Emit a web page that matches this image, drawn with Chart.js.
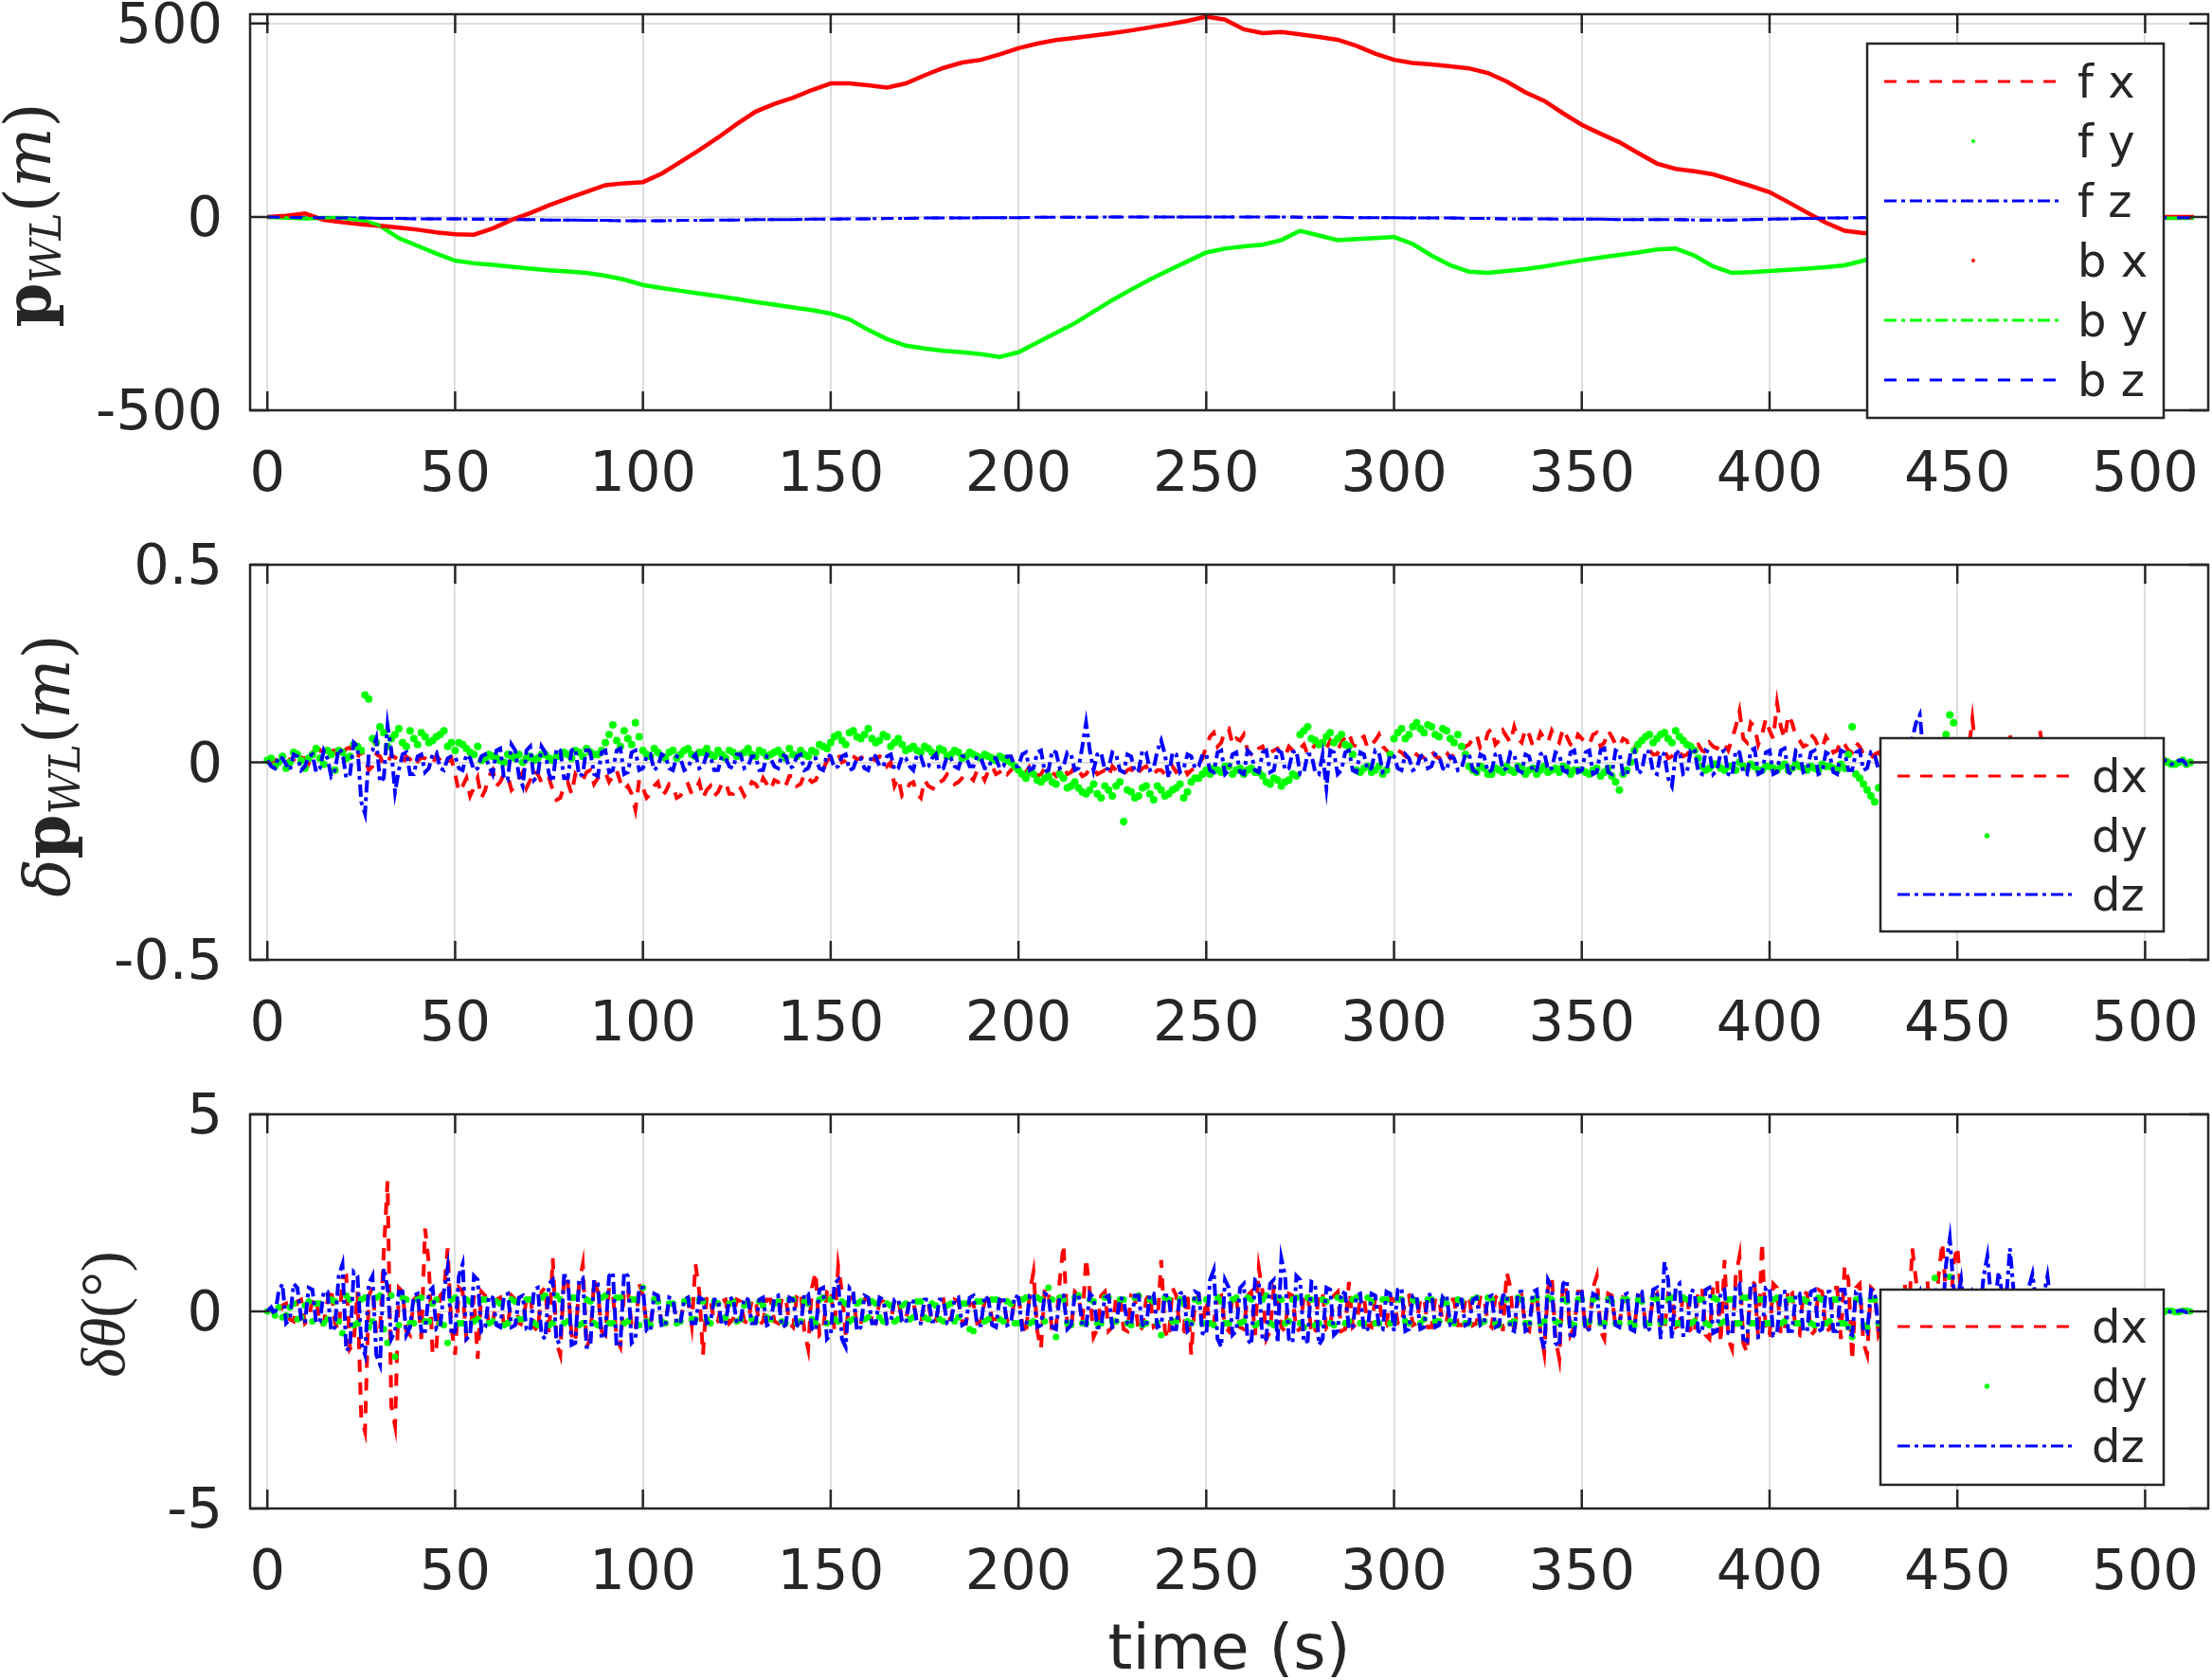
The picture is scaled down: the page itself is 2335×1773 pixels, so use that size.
<!DOCTYPE html>
<html>
<head>
<meta charset="utf-8">
<script src="https://cdn.jsdelivr.net/npm/chart.js@4/dist/chart.umd.min.js"></script>
<style>
html, body { margin: 0; padding: 0; background: #fff; overflow: hidden; }
#wrap { position: relative; width: 2335px; height: 1773px; overflow: hidden; }
canvas { position: absolute; left: 0; }
</style>
</head>
<body>
<div id="wrap">
  <canvas id="posChart" width="2335" height="560" style="top:0px"></canvas>
  <canvas id="errChart" width="2335" height="585" style="top:560px"></canvas>
  <canvas id="angChart" width="2335" height="634" style="top:1145px"></canvas>
</div>
<script>
// ---- axes ----
const xLim = [-4.6, 516.8];
const xTicks = [0, 50, 100, 150, 200, 250, 300, 350, 400, 450, 500];
const posTicks = [-500, 0, 500];
const errTicks = [-0.5, 0, 0.5];
const angTicks = [-5, 0, 5];

// sample instants (s)
const tPos = Array.from({length: 103}, (_, i) => i * 5).concat([513]);
const tEven = Array.from({length: 257}, (_, i) => i * 2);
const tOdd = Array.from({length: 256}, (_, i) => i * 2 + 1);

// ---- top: position p_WL (m), read every 5 s ----
const posX = [
  0, 3, 9, -8, -14, -19, -23, -28, -33, -40,
  -45, -46, -30, -8, 10, 30, 48, 65, 82, 87,
  90, 112, 142, 173, 205, 240, 272, 292, 308, 328,
  345, 345, 340, 334, 345, 366, 385, 399, 406, 420,
  436, 448, 457, 463, 469, 475, 482, 490, 498, 507,
  518, 510, 485, 475, 478, 472, 465, 458, 442, 422,
  406, 398, 394, 389, 384, 372, 350, 322, 300, 268,
  238, 215, 193, 165, 138, 124, 118, 110, 95, 80,
  64, 38, 11, -15, -36, -42, -40, -35, -30, -25,
  -20, -16, -12, -9, -6, -4, -3, -2, -1, 0,
  0, 0, 0, 0
];
const posY = [
  0, -2, -4, -3, -3, -8, -23, -55, -75, -95,
  -113, -120, -124, -129, -134, -138, -141, -145, -152, -162,
  -176, -184, -191, -198, -205, -212, -220, -227, -234, -241,
  -250, -265, -292, -316, -333, -340, -346, -350, -355, -362,
  -350, -325, -300, -275, -245, -215, -188, -162, -138, -115,
  -92, -82, -76, -72, -60, -36, -48, -60, -57, -55,
  -52, -70, -100, -125, -142, -145, -140, -135, -128, -120,
  -112, -105, -98, -92, -84, -82, -100, -128, -145, -143,
  -140, -137, -134, -130, -125, -113, -100, -90, -80, -70,
  -60, -50, -42, -35, -28, -22, -16, -11, -7, -4,
  -3, -3, -3, -3
];
const posZ = [
  0, -1, -2, -2, -3, -3, -4, -4, -5, -5,
  -5, -6, -6, -7, -7, -8, -8, -9, -9, -10,
  -10, -10, -9, -9, -8, -8, -7, -7, -7, -6,
  -6, -5, -5, -4, -4, -3, -3, -3, -2, -2,
  -2, -1, -1, -1, -1, 0, 0, 0, 0, 0,
  0, 0, 0, 0, 0, -1, -1, -1, -2, -2,
  -2, -3, -3, -3, -4, -4, -5, -5, -5, -6,
  -6, -6, -7, -7, -7, -7, -8, -8, -8, -7,
  -6, -5, -4, -3, -3, -2, -2, -2, -2, -2,
  -2, -2, -2, -2, -2, -2, -2, -2, -2, -2,
  -2, -2, -2, -2
];

// ---- middle: position error (m); even seconds, then odd seconds; one row per 50 s ----
const errX = [
  0, 0.005, -0.006, 0.008, -0.004, 0.01, 0.025, 0.032, 0.018, 0.03, 0.022, 0.038, 0.012, 0.01, -0.01, 0.015, 0, 0.012, -0.005, 0.008, 0.002, 0.01, -0.004, 0.006, 0,
  -0.03, -0.06, -0.085, -0.04, -0.07, -0.02, -0.05, -0.035, -0.06, -0.025, -0.045, -0.03, -0.055, -0.07, -0.09, -0.05, -0.03, -0.045, -0.02, -0.04, -0.025, -0.035, -0.05, -0.06, -0.12,
  -0.065, -0.08, -0.05, -0.075, -0.06, -0.085, -0.055, -0.07, -0.09, -0.06, -0.075, -0.05, -0.08, -0.065, -0.07, -0.055, -0.04, -0.07, -0.05, -0.06, -0.035, -0.055, -0.04, -0.045, -0.02,
  0.01, 0.02, 0.005, 0.015, 0.01, 0.02, 0.005, 0.012, 0, -0.04, -0.075, -0.05, -0.09, -0.06, -0.07, -0.045, -0.035, -0.05, -0.03, -0.045, -0.025, -0.02, -0.03, -0.015, -0.02,
  -0.01, -0.025, -0.015, -0.03, -0.02, -0.035, -0.01, -0.025, -0.02, -0.03, -0.015, -0.025, -0.035, -0.02, -0.03, -0.015, -0.025, -0.01, -0.03, -0.02, -0.015, -0.025, -0.01, -0.02, -0.005,
  0.04, 0.075, 0.05, 0.085, 0.06, 0.07, 0.02, 0.035, 0.015, 0.03, 0.02, 0.04, 0.025, 0.045, 0.03, 0.05, 0.035, 0.04, 0.05, 0.075, 0.04, 0.065, 0.045, 0.07, 0.03,
  0.015, 0.025, 0.01, 0.02, 0.015, 0.03, 0.01, 0.025, 0.02, 0.03, 0.045, 0.07, 0.04, 0.085, 0.055, 0.065, 0.09, 0.05, 0.07, 0.045, 0.06, 0.08, 0.05, 0.065, 0.04,
  0.06, 0.045, 0.075, 0.05, 0.065, 0.04, 0.055, 0.035, 0.05, 0.03, 0.02, 0.03, 0.015, 0.025, 0.02, 0.04, 0.03, 0.05, 0.035, 0.045, 0.06, 0.13, 0.05, 0.09, 0.07,
  0.08, 0.15, 0.06, 0.1, 0.055, 0.045, 0.06, 0.035, 0.05, 0.03, 0.045, 0.025, 0.04, 0.015, 0.02, 0.01, 0.015, 0.005, 0.02, 0.01, 0.03, 0.015, 0.04, 0.02, 0.03,
  0.03, 0.02, 0.11, 0.015, 0.02, 0.01, 0.02, 0.07, 0.015, 0.01, 0.02, 0.08, 0.01, 0.015, 0.005, 0.01, 0, 0.01, 0.005, 0, 0.01, 0, 0.005, 0, 0.005,
  0, 0.004, -0.003, 0.005, -0.002, 0.003, 0
];
const errXOdd = [
  -0.004, 0.008, -0.002, 0.006, 0.012, -0.003, 0.035, 0.015, 0.028, 0.01, 0.034, 0.02, 0.03, -0.02, 0.02, -0.008, 0.018, 0.005, 0.014, -0.01, 0.012, 0.004, 0.016, -0.006, 0.01,
  -0.075, -0.04, -0.065, -0.09, -0.035, -0.06, -0.03, -0.07, -0.04, -0.065, -0.02, -0.05, -0.04, -0.095, -0.06, -0.08, -0.045, -0.025, -0.055, -0.03, -0.05, -0.02, -0.07, -0.08, -0.045,
  -0.09, -0.06, -0.085, -0.055, -0.09, -0.06, -0.08, -0.05, -0.07, -0.085, -0.055, -0.08, -0.06, -0.085, -0.05, -0.07, -0.055, -0.045, -0.065, -0.035, -0.06, -0.03, -0.05, -0.025, 0.005,
  0.015, 0, 0.02, 0.008, 0.018, 0.01, 0.015, -0.01, -0.06, -0.085, -0.055, -0.08, -0.045, -0.065, -0.05, -0.03, -0.055, -0.04, -0.035, -0.02, -0.045, -0.01, -0.025, -0.03, -0.01,
  -0.03, -0.01, -0.035, -0.015, -0.025, -0.02, -0.03, -0.01, -0.035, -0.015, -0.03, -0.02, -0.01, -0.03, -0.02, -0.035, -0.015, -0.025, -0.02, -0.03, -0.01, -0.02, -0.03, -0.015, 0.01,
  0.065, 0.04, 0.08, 0.045, 0.055, 0.03, 0.015, 0.04, 0.025, 0.035, 0.015, 0.03, 0.035, 0.02, 0.045, 0.03, 0.055, 0.03, 0.065, 0.045, 0.06, 0.035, 0.055, 0.04, 0.02,
  0.03, 0.015, 0.025, 0.01, 0.025, 0.015, 0.03, 0.01, 0.025, 0.04, 0.06, 0.035, 0.075, 0.045, 0.08, 0.05, 0.06, 0.085, 0.04, 0.075, 0.05, 0.06, 0.085, 0.045, 0.07,
  0.05, 0.07, 0.04, 0.08, 0.045, 0.06, 0.03, 0.05, 0.04, 0.02, 0.035, 0.01, 0.03, 0.015, 0.03, 0.045, 0.025, 0.04, 0.05, 0.03, 0.09, 0.06, 0.1, 0.045, 0.11,
  0.06, 0.09, 0.12, 0.065, 0.04, 0.07, 0.04, 0.065, 0.025, 0.055, 0.03, 0.05, 0.02, 0.01, 0.025, 0.005, 0.02, 0.01, 0.015, 0.02, 0.01, 0.025, 0.015, 0.01, 0.02,
  0.01, 0.03, 0.02, 0.01, 0.015, 0.01, 0.03, 0.02, 0.005, 0.01, 0.03, 0.02, 0.005, 0.01, 0, 0.005, 0.01, 0, 0.005, 0.01, 0, 0.008, 0, 0.004, -0.002,
  0.003, -0.004, 0.002, -0.003, 0.004, -0.002
];
const errY = [
  0.005, -0.01, 0.015, 0, 0.02, -0.015, 0.02, 0.01, 0.03, -0.02, 0.025, 0.015, 0.04, 0.17, 0.06, 0.09, 0.04, 0.07, 0.05, 0.08, 0.045, 0.065, 0.055, 0.07, 0.04,
  0.03, 0.045, 0.025, 0.04, 0.01, 0.015, 0.005, 0.02, 0.01, 0, 0.015, 0.01, 0.02, 0.005, 0.015, 0.02, 0.03, 0.015, 0.025, 0.02, 0.05, 0.095, 0.04, 0.06, 0.1,
  0.03, 0.015, 0.025, 0.01, 0.03, 0.02, 0.035, 0.015, 0.025, 0.02, 0.03, 0.01, 0.025, 0.02, 0.035, 0.015, 0.025, 0.02, 0.03, 0.01, 0.02, 0.03, 0.015, 0.025, 0.04,
  0.05, 0.07, 0.045, 0.08, 0.06, 0.085, 0.05, 0.07, 0.04, 0.06, 0.03, 0.04, 0.025, 0.035, 0.02, 0.03, 0.02, 0.025, 0.015, 0.02, 0.01, 0.015, 0.005, 0.01, 0,
  -0.02, -0.04, -0.03, -0.05, -0.035, -0.055, -0.04, -0.06, -0.065, -0.08, -0.055, -0.09, -0.07, -0.06, -0.15, -0.075, -0.085, -0.06, -0.095, -0.07, -0.08, -0.065, -0.09, -0.05, -0.04,
  -0.02, -0.015, -0.025, -0.01, -0.02, -0.03, -0.015, -0.025, -0.05, -0.04, -0.06, -0.045, -0.035, 0.08, 0.06, 0.045, 0.065, 0.05, 0.07, 0.04, -0.02, -0.015, -0.025, -0.01, -0.02,
  0.06, 0.085, 0.07, 0.1, 0.075, 0.09, 0.065, 0.08, 0.05, 0.04, -0.01, -0.025, -0.015, -0.03, -0.02, -0.01, -0.025, -0.015, -0.02, -0.03, -0.01, -0.02, -0.025, -0.015, -0.02,
  -0.02, -0.03, -0.015, -0.025, -0.035, -0.07, -0.02, 0.03, 0.055, 0.07, 0.06, 0.075, 0.05, 0.065, 0.045, 0.03, -0.01, -0.015, -0.005, -0.02, -0.01, 0, -0.015, -0.01, -0.02,
  -0.01, -0.02, -0.005, -0.015, -0.01, -0.02, -0.015, -0.005, -0.01, -0.02, -0.015, 0.09, -0.04, -0.07, -0.1, -0.06, -0.12, -0.08, -0.04, -0.02, -0.01, 0, 0.01, 0.005, 0.12,
  0.05, 0.02, 0.01, 0.005, 0, 0.005, -0.005, 0, 0.005, -0.005, 0, 0.005, 0, -0.005, 0, 0.005, 0, -0.005, 0, 0.005, 0, -0.005, 0, 0.005, 0,
  -0.005, 0.005, -0.01, 0, -0.005, 0.005, 0
];
const errYOdd = [
  0.01, 0, -0.015, 0.025, 0.005, 0.01, 0.035, -0.005, 0.02, 0.03, 0.01, 0.045, 0.03, 0.16, 0.05, 0.075, 0.06, 0.085, 0.04, 0.06, 0.075, 0.05, 0.065, 0.08, 0.05,
  0.05, 0.035, 0.02, 0.005, 0.02, 0.01, 0, 0.015, 0.02, 0.01, 0.005, 0.02, 0.01, 0.015, 0.025, 0.01, 0.025, 0.035, 0.02, 0.03, 0.07, 0.055, 0.08, 0.045, 0.065,
  0.02, 0.035, 0.015, 0.025, 0.01, 0.03, 0.02, 0.025, 0.035, 0.015, 0.02, 0.03, 0.015, 0.025, 0.02, 0.03, 0.015, 0.025, 0.02, 0.035, 0.015, 0.02, 0.03, 0.045, 0.035,
  0.065, 0.055, 0.075, 0.065, 0.07, 0.06, 0.055, 0.065, 0.05, 0.045, 0.035, 0.03, 0.04, 0.025, 0.035, 0.015, 0.03, 0.01, 0.025, 0.015, 0.02, 0.01, 0.015, 0.005, -0.01,
  -0.03, -0.025, -0.045, -0.04, -0.05, -0.03, -0.065, -0.05, -0.075, -0.07, -0.08, -0.06, -0.085, -0.05, -0.07, -0.09, -0.065, -0.08, -0.06, -0.085, -0.07, -0.055, -0.075, -0.04, -0.03,
  -0.03, -0.02, -0.01, -0.03, -0.015, -0.02, -0.025, -0.035, -0.055, -0.045, -0.05, -0.03, 0.07, 0.09, 0.055, 0.05, 0.075, 0.06, 0.045, 0.02, -0.025, -0.01, -0.02, -0.03, 0.02,
  0.075, 0.06, 0.09, 0.085, 0.095, 0.07, 0.085, 0.06, 0.07, 0.02, -0.02, -0.01, -0.03, -0.015, -0.025, -0.02, -0.01, -0.03, -0.015, -0.02, -0.025, -0.015, -0.01, -0.03, -0.02,
  -0.025, -0.02, -0.035, -0.015, -0.05, -0.03, 0, 0.045, 0.065, 0.05, 0.07, 0.06, 0.08, 0.055, 0.04, 0.01, -0.02, -0.005, -0.015, -0.01, -0.02, -0.01, -0.005, -0.02, -0.01,
  -0.015, -0.01, -0.02, -0.005, -0.015, -0.01, -0.02, -0.01, -0.015, -0.005, 0.02, -0.03, -0.055, -0.085, -0.065, -0.1, -0.07, -0.05, -0.03, -0.015, 0, 0.005, 0, 0.07, 0.1,
  0.03, 0.015, 0.005, 0, -0.005, 0, 0.005, -0.005, 0, 0.005, -0.005, 0, 0.005, 0, -0.005, 0, 0.005, 0, -0.005, 0, 0.005, 0, -0.005, 0, 0.005,
  0, -0.01, 0.005, -0.005, 0, -0.005
];
const errZ = [
  0.005, -0.015, 0.01, -0.02, 0.015, -0.01, 0.02, -0.015, 0.01, -0.02, 0.025, -0.03, 0.04, -0.13, 0.03, -0.05, 0.094, -0.075, 0.02, -0.03, 0.015, -0.025, 0.02, -0.015, 0.01,
  0.015, -0.02, 0.01, -0.015, 0.02, -0.03, 0.035, -0.045, 0.03, -0.06, 0.04, -0.035, 0.025, -0.05, 0.03, -0.04, 0.035, -0.03, 0.025, -0.035, 0.03, -0.02, 0.035, -0.025, 0.03,
  -0.015, 0.02, -0.01, 0.015, -0.02, 0.01, -0.015, 0.02, -0.01, 0.015, -0.02, 0.01, -0.015, 0.02, -0.01, 0.015, -0.02, 0.01, -0.015, 0.015, -0.01, 0.02, -0.015, 0.01, -0.02,
  0.015, -0.01, 0.02, -0.015, 0.01, -0.02, 0.015, -0.01, 0.02, -0.015, 0.01, -0.02, 0.015, -0.01, 0.02, -0.015, 0.01, -0.015, 0.015, -0.01, 0.01, -0.015, 0.01, -0.01, 0.015,
  -0.01, 0.025, -0.015, 0.03, -0.02, 0.025, -0.01, 0.02, -0.015, 0.1, -0.02, 0.025, -0.015, 0.02, -0.025, 0.015, -0.02, 0.025, -0.015, 0.055, -0.04, 0.02, -0.015, 0.015, -0.01,
  0.02, -0.025, 0.03, -0.02, 0.025, -0.03, 0.02, -0.025, 0.03, -0.02, 0.025, -0.015, 0.03, -0.025, 0.02, -0.03, -0.065, 0.025, -0.02, 0.03, -0.025, 0.02, -0.015, 0.025, -0.02,
  0.015, -0.02, 0.01, -0.015, 0.02, -0.01, 0.015, -0.02, 0.01, -0.015, 0.02, -0.025, 0.015, -0.02, 0.025, -0.015, 0.02, -0.025, 0.015, -0.02, 0.025, -0.015, 0.02, -0.025, 0.03,
  -0.02, 0.03, -0.025, 0.035, -0.03, 0.025, -0.035, 0.03, -0.02, 0.025, -0.03, 0.02, -0.06, 0.03, -0.025, 0.035, -0.03, 0.025, -0.02, 0.03, -0.035, 0.025, -0.03, 0.035, -0.025,
  0.03, -0.025, 0.035, -0.03, 0.025, -0.02, 0.03, -0.025, 0.02, -0.03, 0.025, -0.02, 0.03, -0.015, 0.02, -0.025, 0.015, -0.02, 0.01, 0.06, 0.12, -0.01, 0.01, -0.005, 0.01,
  0.005, -0.01, 0.01, -0.005, 0.01, -0.01, 0.005, -0.01, 0.01, -0.005, 0.005, -0.01, 0.01, -0.005, 0.005, -0.01, 0.005, -0.005, 0.01, -0.005, 0.005, -0.01, 0.005, -0.005, 0.005,
  -0.005, 0.005, -0.005, 0.005, -0.005, 0.005, 0
];
const errZOdd = [
  -0.01, 0.015, -0.005, 0.02, -0.02, 0.015, -0.025, 0.03, -0.035, 0.035, -0.04, 0.05, -0.1, 0.02, 0.06, -0.04, 0.03, -0.02, 0.025, -0.03, 0.02, -0.015, 0.025, -0.02, 0.015,
  -0.015, 0.02, -0.02, 0.015, -0.01, 0.03, -0.04, 0.045, -0.035, 0.03, -0.045, 0.04, -0.03, 0.035, -0.04, 0.03, -0.035, 0.04, -0.03, 0.025, -0.025, 0.03, -0.03, 0.025, -0.02,
  0.015, -0.02, 0.02, -0.015, 0.015, -0.02, 0.01, -0.015, 0.02, -0.02, 0.015, -0.01, 0.02, -0.015, 0.015, -0.02, 0.015, -0.01, 0.02, -0.015, 0.015, -0.02, 0.01, -0.015, 0.02,
  -0.015, 0.015, -0.02, 0.01, -0.015, 0.02, -0.01, 0.015, -0.02, 0.015, -0.01, 0.02, -0.015, 0.01, -0.02, 0.015, -0.01, 0.015, -0.01, 0.015, -0.015, 0.01, -0.015, 0.015, -0.01,
  0.02, -0.02, 0.025, -0.025, 0.03, -0.015, 0.025, -0.02, 0.04, 0.03, 0.02, -0.02, 0.025, -0.02, 0.02, -0.025, 0.03, -0.02, 0.03, 0.02, 0.025, -0.025, 0.02, -0.015, 0.02,
  -0.02, 0.025, -0.03, 0.02, -0.025, 0.03, -0.02, 0.025, -0.025, 0.03, -0.02, 0.025, -0.03, 0.02, -0.025, 0.02, 0.03, -0.03, 0.025, -0.02, 0.025, -0.02, 0.03, -0.025, 0.02,
  -0.015, 0.02, -0.02, 0.015, -0.015, 0.02, -0.015, 0.015, -0.02, 0.02, -0.02, 0.02, -0.025, 0.02, -0.02, 0.025, -0.02, 0.02, -0.025, 0.02, -0.02, 0.025, -0.02, 0.025, -0.025,
  0.025, -0.03, 0.03, -0.025, 0.03, -0.03, 0.025, -0.03, 0.03, -0.025, 0.025, -0.04, 0.02, -0.03, 0.03, -0.025, 0.03, -0.03, 0.025, -0.03, 0.03, -0.025, 0.03, -0.03, 0.025,
  -0.03, 0.03, -0.025, 0.03, -0.025, 0.025, -0.03, 0.025, -0.025, 0.03, -0.02, 0.025, -0.02, 0.025, -0.02, 0.02, -0.025, 0.015, -0.015, 0.1, 0.02, 0.01, -0.01, 0.005, -0.01,
  -0.005, 0.01, -0.01, 0.005, -0.005, 0.01, -0.005, 0.005, -0.01, 0.01, -0.005, 0.005, -0.01, 0.01, -0.005, 0.005, -0.01, 0.005, -0.005, 0.01, -0.005, 0.005, -0.01, 0.005, -0.005,
  0.005, -0.005, 0.005, -0.005, 0.005, -0.005
];

// ---- bottom: attitude error (deg); even seconds, then odd seconds; one row per 50 s ----
const angX = [
  0, -0.1, 0.15, -0.2, 0.25, -0.3, 0.3, -0.35, 0.25, -0.3, 0.85, -0.95, 0.5, -3.05, 0.6, -0.5, 3.3, -2.9, 0.5, -0.6, 0.4, 2.1, -1.1, 0.4, 1.6,
  -1.1, 0.5, -0.6, -1.2, 0.4, -0.3, 0.35, -0.4, 0.3, -0.35, 0.4, -0.5, 0.6, 1.35, -1.1, 0.7, -0.8, 1.2, -0.7, 0.5, -0.6, 0.45, -0.9, 0.6, -0.5,
  0.4, -0.3, 0.35, -0.3, 0.3, -0.25, 0.3, 1.2, -1.1, 0.3, -0.25, 0.3, -0.2, 0.25, -0.3, 0.3, -0.25, 0.3, -0.3, 0.35, -0.4, 0.5, -0.95, 1.0, -0.5,
  0.6, 1.15, -0.6, 0.4, -0.35, 0.3, -0.3, 0.25, -0.25, 0.3, -0.2, 0.25, -0.3, 0.2, -0.25, 0.3, -0.2, 0.25, -0.3, 0.2, -0.25, 0.3, -0.2, 0.25, -0.3,
  0.4, -0.6, 1.0, -0.95, 0.5, -0.4, 1.7, -0.5, 0.4, 1.35, -0.65, 0.4, -0.5, 0.35, -0.45, 0.4, -0.55, 0.3, -0.4, 1.3, -0.7, 0.4, -0.5, -1.1, 0.4,
  0.3, -0.3, 0.4, -0.5, 0.35, -0.45, 0.5, 1.1, -0.7, 0.6, -0.4, 0.45, -0.5, 0.4, -0.6, 0.5, -0.45, 0.4, -0.5, 0.75, -0.3, 0.35, -0.4, 0.3, -0.35,
  0.3, -0.35, 0.4, -0.3, 0.35, -0.4, 0.3, -0.25, 0.3, -0.35, 0.4, -0.3, 0.35, -0.4, 0.45, 1.0, -0.6, 0.4, -0.5, 0.35, -1.05, 0.9, -1.2, 0.5, -0.4,
  0.5, -0.4, 0.9, -0.7, 0.4, -0.35, 0.3, -0.4, 0.35, -0.3, 0.45, -0.5, 0.4, -0.35, 0.5, -0.6, 0.6, -0.7, 0.8, 1.3, -0.95, 1.4, -1.05, 0.7, 1.75,
  -0.6, 0.6, -0.5, 0.5, -0.6, 0.45, -0.5, 0.5, -0.45, 0.6, 1.15, -1.25, 0.7, -1.1, 0.5, -0.4, 0.5, -0.6, 0.7, 1.6, -0.5, 0.8, -0.4, 1.75, -0.3,
  1.65, -0.3, 0.5, -0.2, 0.3, -0.2, 0.25, -0.15, 0.2, -0.1, 0.15, -0.1, 0.1, -0.05, 0.05, -0.05, 0.05, -0.03, 0.03, -0.03, 0.03, -0.02, 0.02, -0.02, 0.02,
  -0.02, 0.02, -0.01, 0.01, -0.02, 0.01, 0
];
const angXOdd = [
  0.05, -0.15, 0.2, -0.25, 0.3, -0.2, 0.35, -0.3, 0.6, -0.5, 0.9, -0.8, -2.7, 0.4, -0.6, 1.5, -2.4, 0.6, -0.5, 0.3, -0.7, 1.2, -0.9, 0.5, -0.4,
  0.6, -0.7, 0.4, 0.5, -0.4, 0.3, -0.35, 0.4, -0.3, 0.35, -0.4, 0.5, -0.6, -0.8, 0.9, -0.6, 0.7, -0.9, 0.8, -0.5, 0.6, -0.7, 0.5, -0.4, 0.7,
  -0.35, 0.3, -0.3, 0.35, -0.25, 0.3, -0.35, 0.5, 0.4, -0.3, 0.25, -0.3, 0.3, -0.25, 0.3, -0.35, 0.3, -0.25, 0.35, -0.3, 0.4, -0.5, 0.6, -0.6, 0.5,
  -0.5, 0.5, 0.3, -0.4, 0.3, -0.25, 0.25, -0.3, 0.3, -0.2, 0.25, -0.25, 0.2, -0.3, 0.25, -0.2, 0.3, -0.25, 0.2, -0.3, 0.25, -0.2, 0.3, -0.25, 0.35,
  -0.3, 0.5, -0.5, 0.6, -0.6, 0.8, -0.4, 0.5, -0.3, 0.5, -0.45, 0.5, -0.4, 0.4, -0.5, 0.35, -0.4, 0.45, -0.35, -0.5, 0.6, -0.45, 0.5, 0.3, -0.4,
  -0.35, 0.35, -0.4, 0.45, -0.4, 0.4, -0.6, 0.5, -0.5, 0.45, -0.5, 0.4, -0.45, 0.5, -0.5, 0.45, -0.4, 0.5, -0.45, -0.4, 0.3, -0.35, 0.35, -0.3, 0.35,
  -0.3, 0.35, -0.35, 0.3, -0.4, 0.35, -0.3, 0.3, -0.35, 0.3, -0.35, 0.4, -0.3, 0.35, -0.5, 0.6, 0.3, -0.45, 0.4, -0.5, 0.6, -0.7, 0.7, -0.6, 0.5,
  -0.5, 0.6, -0.5, 0.45, -0.4, 0.35, -0.35, 0.4, -0.3, 0.35, -0.4, 0.45, -0.4, 0.45, -0.5, 0.55, -0.6, 0.7, -0.8, -0.7, 0.9, -0.8, 0.8, -0.7, -0.6,
  0.7, -0.6, 0.6, -0.55, 0.5, -0.6, 0.55, -0.5, 0.6, -0.7, 0.8, 0.6, -0.8, 0.6, -0.6, 0.5, -0.55, 0.6, -0.3, 0.8, 0.3, -0.3, 0.9, 0.4, 1.2,
  0.4, 0.2, -0.3, 0.3, -0.25, 0.2, -0.2, 0.15, -0.15, 0.1, -0.1, 0.1, -0.08, 0.05, -0.05, 0.04, -0.04, 0.03, -0.03, 0.03, -0.02, 0.02, -0.02, 0.02, -0.02,
  0.02, -0.02, 0.01, -0.01, 0.01, -0.01
];
const angY = [
  0, -0.1, -0.15, 0.1, -0.2, 0.15, -0.25, 0.2, -0.2, 0.25, -0.55, 0.3, -0.3, 0.35, -0.25, 0.4, -0.8, -1.15, 0.35, -0.3, 0.3, -0.25, 0.2, -0.3, -0.8,
  0.35, -0.3, 0.25, -0.2, 0.3, -0.25, 0.2, -0.3, 0.25, -0.2, 0.3, -0.35, 0.4, -0.3, 0.3, -0.25, 0.35, -0.3, 0.25, -0.35, 0.4, -0.3, 0.35, -0.25, 0.3,
  0.6, -0.35, 0.25, -0.3, 0.2, -0.25, 0.3, -0.2, 0.25, -0.3, 0.2, -0.15, 0.25, -0.2, 0.2, -0.25, 0.15, -0.2, 0.25, -0.3, 0.3, -0.25, 0.2, -0.3, 0.35,
  0.3, -0.25, 0.2, -0.2, 0.25, -0.15, 0.2, -0.25, 0.15, -0.2, 0.2, -0.15, 0.25, -0.2, 0.15, -0.25, 0.2, -0.15, 0.2, -0.5, 0.25, -0.2, 0.3, -0.25, 0.2,
  -0.3, 0.35, -0.25, 0.3, 0.6, -0.65, 0.3, -0.35, 0.4, -0.3, 0.25, -0.3, 0.35, -0.25, 0.3, -0.35, 0.4, -0.3, 0.25, -0.6, 0.3, -0.25, 0.2, -0.3, 0.25,
  0.3, -0.35, 0.25, -0.3, 0.35, -0.25, 0.3, -0.3, 0.4, -0.35, 0.3, -0.25, 0.35, -0.4, 0.3, -0.3, 0.25, -0.35, 0.3, -0.25, 0.35, -0.3, 0.25, -0.3, 0.3,
  -0.25, 0.3, -0.3, 0.25, -0.2, 0.3, -0.25, 0.2, -0.3, 0.25, -0.3, 0.35, -0.25, 0.3, -0.35, 0.3, -0.25, 0.3, -0.3, 0.35, -0.25, 0.3, -0.3, 0.25, -0.35,
  0.3, -0.25, 0.35, -0.3, 0.25, -0.3, 0.3, -0.35, 0.25, -0.3, 0.3, -0.25, 0.35, -0.3, 0.3, -0.25, 0.3, -0.35, 0.3, -0.25, 0.3, -0.3, 0.35, -0.3, 0.3,
  -0.3, 0.35, -0.25, 0.3, -0.3, 0.25, -0.35, 0.3, -0.25, 0.3, -0.3, -0.65, 0.3, -0.4, 0.3, -0.35, 0.3, -0.3, 0.35, 0.3, -0.3, 0.3, 0.85, 0.2, 0.88,
  0.2, -0.15, 0.15, -0.1, 0.1, -0.1, 0.08, -0.08, 0.06, -0.06, 0.05, -0.05, 0.04, -0.04, 0.04, -0.03, 0.03, -0.03, 0.03, -0.02, 0.03, -0.02, 0.02, -0.02, 0.02,
  -0.02, 0.02, -0.02, 0.02, -0.02, 0.02, 0
];
const angYOdd = [
  0.05, 0.1, -0.1, 0.2, -0.15, 0.25, 0.2, -0.3, 0.3, -0.25, 0.4, -0.35, 0.3, -0.4, 0.35, -0.45, 0.4, -0.35, 0.3, -0.3, 0.35, -0.25, 0.3, -0.35, 0.3,
  -0.3, 0.3, -0.25, 0.3, -0.3, 0.25, -0.35, 0.3, -0.2, 0.3, -0.3, 0.35, -0.35, 0.4, -0.3, 0.35, -0.35, 0.3, -0.3, 0.35, -0.3, 0.35, -0.3, 0.3, -0.35,
  -0.25, 0.3, -0.25, 0.2, -0.3, 0.25, -0.2, 0.3, -0.2, 0.25, -0.2, 0.2, -0.25, 0.15, -0.2, 0.25, -0.15, 0.2, -0.25, 0.3, -0.3, 0.25, -0.2, 0.3, -0.3,
  -0.2, 0.25, -0.25, 0.2, -0.2, 0.25, -0.15, 0.2, -0.25, 0.15, -0.2, 0.25, -0.15, 0.2, -0.2, 0.15, -0.25, 0.2, -0.45, 0.25, -0.25, 0.3, -0.2, 0.25, -0.3,
  0.3, -0.3, 0.35, -0.25, 0.3, 0.35, -0.3, 0.35, -0.3, 0.3, -0.3, 0.35, -0.25, 0.3, -0.3, 0.35, -0.35, 0.3, -0.3, 0.35, -0.25, 0.3, -0.25, 0.3, -0.3,
  -0.3, 0.35, -0.3, 0.3, -0.3, 0.35, -0.35, 0.3, -0.3, 0.35, -0.3, 0.3, -0.3, 0.35, -0.35, 0.3, -0.3, 0.35, -0.3, 0.3, -0.3, 0.35, -0.3, 0.3, -0.3,
  0.3, -0.25, 0.3, -0.3, 0.3, -0.25, 0.3, -0.25, 0.3, -0.3, 0.3, -0.3, 0.35, -0.3, 0.3, -0.3, 0.35, -0.3, 0.3, -0.3, 0.35, -0.25, 0.3, -0.3, 0.3,
  -0.3, 0.3, -0.3, 0.3, -0.3, 0.3, -0.3, 0.3, -0.3, 0.35, -0.3, 0.3, -0.3, 0.35, -0.3, 0.3, -0.3, 0.35, -0.3, 0.3, -0.3, 0.35, -0.3, 0.3, -0.3,
  0.3, -0.3, 0.3, -0.3, 0.3, -0.3, 0.35, -0.3, 0.3, -0.3, -0.4, 0.3, -0.35, 0.3, -0.3, 0.35, -0.3, 0.3, -0.25, 0.3, -0.2, 0.3, -0.2, 0.25, -0.15,
  0.15, -0.12, 0.12, -0.1, 0.1, -0.08, 0.08, -0.06, 0.06, -0.05, 0.05, -0.04, 0.04, -0.04, 0.03, -0.03, 0.03, -0.03, 0.02, -0.02, 0.02, -0.02, 0.02, -0.02, 0.02,
  -0.02, 0.02, -0.02, 0.02, -0.02, 0.02
];
const angZ = [
  0, -0.1, 0.7, -0.2, 0.6, -0.3, 0.55, -0.25, 0.5, -0.4, 1.2, -0.9, 0.9, -1.1, 0.9, -1.35, 0.6, -0.5, 0.5, -0.4, 0.45, -0.5, 0.6, -0.4, 1.1,
  -0.5, 1.2, -0.6, 0.8, -0.4, 0.35, -0.4, 0.45, -0.35, 0.4, -0.5, 0.6, -0.7, 0.8, -0.75, 0.9, -0.8, 0.85, -0.9, 0.7, -0.6, 1.0, -0.85, 0.9, -0.7,
  0.6, -0.5, 0.4, -0.35, 0.3, -0.3, 0.35, -0.3, 0.3, -0.25, 0.3, -0.3, 0.35, -0.25, 0.3, -0.3, 0.35, -0.3, 0.4, -0.35, 0.3, -0.4, 0.45, -0.5, 0.6,
  -0.6, 0.8, -0.9, 0.5, -0.4, 0.35, -0.3, 0.3, -0.25, 0.3, -0.3, 0.25, -0.3, 0.3, -0.25, 0.3, -0.3, 0.35, -0.3, 0.4, -0.35, 0.3, -0.4, 0.35, -0.3,
  0.35, -0.4, 0.45, -0.35, 0.4, -0.45, 0.4, -0.35, 0.45, -0.4, 0.35, -0.4, 0.4, -0.35, 0.3, -0.35, 0.4, -0.4, 0.45, -0.35, 0.4, -0.45, 0.5, -0.4, 0.45,
  -0.6, 1.05, -0.9, 0.6, -0.5, 0.7, -0.85, 0.75, -0.7, 0.8, 1.35, -0.7, 0.9, -0.8, 0.75, -0.85, 0.6, -0.6, 0.5, -0.45, 0.4, -0.5, 0.45, -0.4, 0.5,
  -0.5, 0.6, -0.45, 0.4, -0.4, 0.45, -0.35, 0.4, -0.35, 0.3, -0.3, 0.35, -0.3, 0.4, -0.35, 0.45, -0.5, 0.5, -0.45, 0.55, -0.95, 0.6, -0.9, 0.8, -0.6,
  0.5, -0.45, 0.4, -0.4, 0.35, -0.4, 0.45, -0.5, 0.5, -0.45, 0.6, 1.25, -0.7, 0.7, -0.6, 0.5, -0.55, 0.6, -0.5, 0.55, -0.6, 0.7, -0.75, 0.65, -0.6,
  0.6, -0.55, 0.5, -0.5, 0.45, -0.5, 0.55, -0.45, 0.5, -0.5, 0.55, -0.6, 0.5, -0.55, 0.5, -0.5, 0.45, -0.6, 0.5, -0.3, 0.5, -0.2, 0.6, -0.2, 1.85,
  0.3, -0.2, 0.5, -0.1, 1.4, 0.2, 0.4, 1.6, 0.2, 0.3, 0.95, 0.1, 0.9, -0.05, 0.1, -0.05, 0.05, -0.05, 0.05, -0.03, 0.03, -0.03, 0.03, -0.02, 0.02,
  -0.02, 0.02, -0.02, 0.02, -0.02, 0.02, 0
];
const angZOdd = [
  0.1, 0.5, -0.3, 0.7, -0.2, 0.6, -0.3, 0.5, -0.5, 0.9, -1.0, 1.0, -0.8, 0.7, -1.1, 1.1, -0.7, 0.5, -0.6, 0.4, -0.5, 0.5, -0.45, 0.5, -0.6,
  0.9, -0.7, 0.9, -0.5, 0.4, -0.35, 0.4, -0.4, 0.35, -0.45, 0.55, -0.6, 0.7, -0.8, 0.9, -0.85, 0.8, -0.9, 0.8, -0.7, 0.9, -0.9, 1.0, -0.8, 0.6,
  -0.5, 0.45, -0.4, 0.35, -0.3, 0.3, -0.3, 0.35, -0.3, 0.3, -0.35, 0.3, -0.3, 0.35, -0.3, 0.3, -0.35, 0.35, -0.4, 0.35, -0.35, 0.45, -0.45, 0.55, -0.7,
  0.7, -0.7, 0.6, -0.5, 0.4, -0.3, 0.35, -0.3, 0.3, -0.25, 0.3, -0.3, 0.3, -0.25, 0.3, -0.3, 0.3, -0.35, 0.35, -0.35, 0.4, -0.35, 0.35, -0.35, 0.4,
  -0.45, 0.4, -0.4, 0.45, -0.4, 0.4, -0.45, 0.4, -0.35, 0.45, -0.4, 0.35, -0.4, 0.35, -0.3, 0.4, -0.35, 0.45, -0.4, 0.4, -0.45, 0.45, -0.5, 0.5, -0.55,
  0.8, -0.7, 0.8, -0.6, 0.6, -0.7, 0.8, -0.75, 0.7, -0.8, 0.9, -0.8, 0.8, -0.75, 0.7, -0.7, 0.55, -0.5, 0.45, -0.4, 0.45, -0.45, 0.4, -0.45, 0.45,
  0.55, -0.5, 0.4, -0.45, 0.4, -0.4, 0.4, -0.35, 0.3, -0.35, 0.3, -0.35, 0.35, -0.4, 0.4, -0.45, 0.5, -0.5, 0.5, -0.6, 0.8, -0.8, 0.7, -0.7, 0.55,
  -0.5, 0.45, -0.4, 0.4, -0.35, 0.4, -0.45, 0.5, -0.5, 0.55, -0.7, 0.8, 0.6, -0.6, 0.55, -0.5, 0.55, -0.55, 0.5, -0.55, 0.65, -0.7, 0.7, -0.65, 0.6,
  -0.6, 0.5, -0.5, 0.45, -0.5, 0.5, -0.5, 0.5, -0.5, 0.55, -0.55, 0.5, -0.5, 0.55, -0.45, 0.5, -0.5, 0.45, -0.3, 0.3, -0.25, 0.4, -0.2, 1.2, 0.6,
  0.8, 0.2, 0.3, 0.9, 0.3, 1.0, 0.3, 0.5, 0.1, 0.6, 0.2, 0.4, 0.1, 0.05, -0.05, 0.05, -0.05, 0.05, -0.03, 0.03, -0.03, 0.03, -0.02, 0.02, -0.02,
  0.02, -0.02, 0.02, -0.02, 0.02, -0.02
];

// ---- look ----
const RED = '#ff0000', GREEN = '#00ff00', BLUE = '#0000ff';
const TEXT = '#262626', GRID = '#dedede';
const DASH = [13, 11], DASHDOT = [13, 5, 4, 5];
const TICK_LEN = 20;
const SERIF = '"DejaVu Serif", serif';
const TIMES = '"Liberation Serif", "DejaVu Serif", serif';

function pts(ts, vs) { return ts.map((t, i) => ({x: t, y: vs[i]})); }
// interleave the even- and odd-second samples in time order
function joinPts(vEven, vOdd) {
  const out = [];
  tEven.forEach((t, i) => {
    out.push({x: t, y: vEven[i]});
    if (i < tOdd.length) out.push({x: tOdd[i], y: vOdd[i]});
  });
  return out;
}

function lineSet(label, data, color, dash, width, order, legendDot) {
  return {label, data, borderColor: color, backgroundColor: color,
    borderWidth: width, borderDash: dash, pointRadius: 0, fill: false, order, legendDot: !!legendDot};
}
function dotSet(label, data, color, r, order) {
  return {label, data, showLine: false, borderColor: color, backgroundColor: color,
    pointBackgroundColor: color, pointBorderWidth: 0, pointRadius: r, order, legendDot: true};
}

// matlab style box with inward ticks
const boxPlugin = {
  id: 'boxAxes',
  afterDatasetsDraw(chart) {
    const {ctx, chartArea: a, scales: {x, y}} = chart;
    ctx.save();
    ctx.strokeStyle = TEXT;
    ctx.lineWidth = 2.5;
    ctx.beginPath();
    x.ticks.forEach(t => {
      const px = x.getPixelForValue(t.value);
      ctx.moveTo(px, a.bottom); ctx.lineTo(px, a.bottom - TICK_LEN);
      ctx.moveTo(px, a.top); ctx.lineTo(px, a.top + TICK_LEN);
    });
    y.ticks.forEach(t => {
      const py = y.getPixelForValue(t.value);
      ctx.moveTo(a.left, py); ctx.lineTo(a.left + TICK_LEN, py);
      ctx.moveTo(a.right, py); ctx.lineTo(a.right - TICK_LEN, py);
    });
    ctx.stroke();
    ctx.strokeRect(a.left, a.top, a.right - a.left, a.bottom - a.top);
    ctx.restore();
  }
};

function boxLegend(b) {
  return {
    id: 'boxLegend',
    afterDraw(chart) {
      const ctx = chart.ctx;
      ctx.save();
      ctx.fillStyle = '#fff';
      ctx.fillRect(b.left, b.top, b.right - b.left, b.bottom - b.top);
      ctx.strokeStyle = TEXT;
      ctx.lineWidth = 2.5;
      ctx.strokeRect(b.left, b.top, b.right - b.left, b.bottom - b.top);
      chart.data.datasets.forEach((ds, i) => {
        const yy = b.rows[i];
        if (ds.legendDot) {
          ctx.fillStyle = ds.borderColor;
          ctx.beginPath();
          ctx.arc((b.x1 + b.x2) / 2, yy, b.dot, 0, Math.PI * 2);
          ctx.fill();
        } else {
          ctx.strokeStyle = ds.borderColor;
          ctx.lineWidth = 3;
          ctx.setLineDash(ds.borderDash || []);
          ctx.beginPath();
          ctx.moveTo(b.x1, yy); ctx.lineTo(b.x2, yy);
          ctx.stroke();
          ctx.setLineDash([]);
        }
        ctx.fillStyle = TEXT;
        ctx.font = '48px "DejaVu Sans"';
        ctx.textAlign = 'left';
        ctx.textBaseline = 'middle';
        ctx.fillText(ds.label, b.textX, yy + 5);
      });
      ctx.restore();
    }
  };
}

// latex-like rotated y label
function yLabel(parts, baseX, centerY) {
  return {
    id: 'richYLabel',
    afterDraw(chart) {
      const ctx = chart.ctx;
      ctx.save();
      ctx.translate(baseX, centerY);
      ctx.rotate(-Math.PI / 2);
      ctx.fillStyle = TEXT;
      ctx.textBaseline = 'alphabetic';
      ctx.textAlign = 'left';
      let total = 0;
      parts.forEach(p => { ctx.font = p.font; p.w = ctx.measureText(p.text).width; total += p.w; });
      let x = -total / 2;
      parts.forEach(p => { ctx.font = p.font; ctx.fillText(p.text, x, p.dy || 0); x += p.w; });
      ctx.restore();
    }
  };
}

function scales(yMin, yMax, yTicks, xHeight, xTitle) {
  return {
    x: {
      type: 'linear', min: xLim[0], max: xLim[1], bounds: 'data',
      afterBuildTicks: s => { s.ticks = xTicks.map(v => ({value: v})); },
      afterFit: s => { s.height = xHeight; s.paddingLeft = 0; s.paddingRight = 0; },
      grid: {color: GRID, lineWidth: 2, drawTicks: false},
      border: {display: false},
      ticks: {color: TEXT, font: {family: 'DejaVu Sans', size: 59}, padding: 34,
        autoSkip: false, maxRotation: 0, minRotation: 0, callback: v => String(v)},
      title: xTitle
        ? {display: true, text: xTitle, color: TEXT, font: {family: 'DejaVu Sans', size: 66, lineHeight: 1}, padding: {top: 0, bottom: 2}}
        : {display: false}
    },
    y: {
      type: 'linear', min: yMin, max: yMax, bounds: 'data',
      afterBuildTicks: s => { s.ticks = yTicks.map(v => ({value: v})); },
      afterFit: s => { s.width = 264; s.paddingTop = 0; s.paddingBottom = 0; },
      grid: {color: GRID, lineWidth: 2, drawTicks: false},
      border: {display: false},
      ticks: {color: TEXT, font: {family: 'DejaVu Sans', size: 59}, padding: 29, labelOffset: 5,
        autoSkip: false, callback: v => String(v)}
    }
  };
}

function baseOptions(top, sc) {
  return {
    responsive: false, animation: false, devicePixelRatio: 1, events: [],
    layout: {autoPadding: false, padding: {top, left: 0, right: 4, bottom: 0}},
    elements: {line: {tension: 0}},
    plugins: {legend: {display: false}, tooltip: {enabled: false}},
    scales: sc
  };
}

const pLabel = [
  {text: 'p', font: 'bold 67px ' + SERIF},
  {text: 'WL', font: 'italic 44px ' + SERIF, dy: 11},
  {text: '(', font: '67px ' + SERIF},
  {text: 'm', font: 'italic 67px ' + SERIF},
  {text: ')', font: '67px ' + SERIF}
];

// ---- chart 1: positions ----
new Chart(document.getElementById('posChart'), {
  type: 'line',
  data: {datasets: [
    lineSet('f x', pts(tPos, posX), RED, DASH, 3, 5),
    lineSet('f y', pts(tPos, posY), GREEN, [], 4.5, 4, true),
    lineSet('f z', pts(tPos, posZ), BLUE, DASHDOT, 3, 3),
    lineSet('b x', pts(tPos, posX), RED, [], 4.5, 2, true),
    lineSet('b y', pts(tPos, posY), GREEN, DASHDOT, 3, 1),
    lineSet('b z', pts(tPos, posZ), BLUE, DASH, 3, 0)
  ]},
  options: baseOptions(15, scales(-500, 524, posTicks, 127, null)),
  plugins: [boxPlugin,
    boxLegend({left: 1971, top: 46, right: 2284, bottom: 441, x1: 1989, x2: 2177, textX: 2193, dot: 2,
      rows: [86, 149, 212, 275, 338, 401]}),
    yLabel(pLabel, 53, 227)]
});

// ---- chart 2: position error ----
new Chart(document.getElementById('errChart'), {
  type: 'line',
  data: {datasets: [
    lineSet('dx', joinPts(errX, errXOdd), RED, DASH, 4, 2),
    dotSet('dy', joinPts(errY, errYOdd), GREEN, 4, 1),
    lineSet('dz', joinPts(errZ, errZOdd), BLUE, DASHDOT, 4, 0)
  ]},
  options: baseOptions(36, scales(-0.5, 0.5, errTicks, 132, null)),
  plugins: [boxPlugin,
    boxLegend({left: 1985, top: 219, right: 2284, bottom: 423, x1: 2003, x2: 2192, textX: 2208, dot: 2.7,
      rows: [259, 322, 384]}),
    yLabel([{text: 'δ', font: 'italic 67px ' + SERIF}].concat(pLabel), 73, 248)]
});

// ---- chart 3: attitude error ----
new Chart(document.getElementById('angChart'), {
  type: 'line',
  data: {datasets: [
    lineSet('dx', joinPts(angX, angXOdd), RED, DASH, 4, 2),
    dotSet('dy', joinPts(angY, angYOdd), GREEN, 3.5, 1),
    lineSet('dz', joinPts(angZ, angZOdd), BLUE, DASHDOT, 4, 0)
  ]},
  options: baseOptions(31, scales(-5, 5, angTicks, 187, 'time (s)')),
  plugins: [boxPlugin,
    boxLegend({left: 1985, top: 216, right: 2284, bottom: 422, x1: 2003, x2: 2192, textX: 2208, dot: 2.7,
      rows: [255, 318, 381]}),
    yLabel([
      {text: 'δθ', font: 'italic 66px ' + TIMES},
      {text: '(', font: '66px ' + TIMES},
      {text: '°', font: '66px ' + TIMES},
      {text: ')', font: '66px ' + TIMES}
    ], 131, 242)]
});
</script>
</body>
</html>
